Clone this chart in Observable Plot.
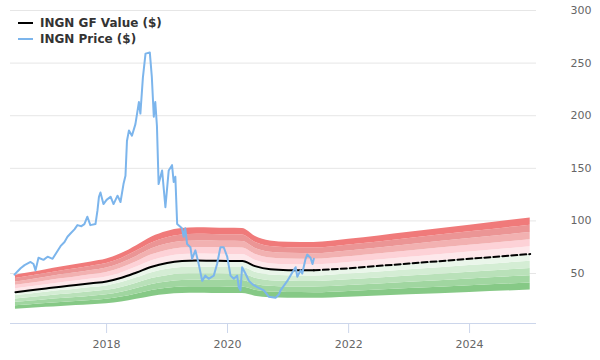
<!DOCTYPE html>
<html>
<head>
<meta charset="utf-8">
<script src="https://cdn.jsdelivr.net/npm/d3@7"></script>
<script src="https://cdn.jsdelivr.net/npm/@observablehq/plot@0.6"></script>
<style>
  html, body { margin: 0; padding: 0; background: #fff; }
  #wrap { position: relative; width: 600px; height: 360px; font-family: "DejaVu Sans", sans-serif; }
  #legend { position: absolute; left: 18px; top: 15px; font-size: 12px; font-weight: bold; color: #333; line-height: 16px; }
  .item { display: flex; align-items: center; height: 16px; }
  .sw { width: 15px; height: 2px; margin-right: 7px; }
</style>
</head>
<body>
<div id="wrap">
  <div id="chart"></div>
  <div id="legend"></div>
</div>
<script>
// ---- data ----
const seriesNames = ["INGN GF Value ($)", "INGN Price ($)"];
const seriesColors = ["#000000", "#7cb5ec"];

const priceDates = [
  "2016-06-24","2016-07-12","2016-07-31","2016-08-24","2016-09-29","2016-10-17","2016-10-29","2016-11-16","2016-12-16",
  "2017-01-10","2017-02-09","2017-03-05","2017-03-29","2017-04-22","2017-05-10","2017-05-28","2017-06-21","2017-07-09",
  "2017-08-02","2017-08-20","2017-09-07","2017-09-25","2017-10-26","2017-11-07","2017-11-16","2017-11-25","2017-12-13",
  "2018-01-01","2018-01-25","2018-02-12","2018-03-08","2018-03-26","2018-04-13","2018-04-25","2018-05-04","2018-05-16",
  "2018-06-03","2018-06-24","2018-07-15","2018-07-24","2018-08-08","2018-08-24","2018-09-19","2018-10-01","2018-10-13",
  "2018-10-22","2018-11-01","2018-11-11","2018-12-02","2018-12-22","2019-01-11","2019-01-31","2019-02-10","2019-02-20",
  "2019-03-03","2019-04-01","2019-04-11","2019-04-21","2019-05-02","2019-05-22","2019-06-01","2019-06-21","2019-07-11",
  "2019-08-01","2019-08-20","2019-09-09","2019-10-10","2019-10-30","2019-11-19","2019-12-09","2019-12-30","2020-01-19",
  "2020-02-08","2020-02-28","2020-03-09","2020-03-19","2020-03-29","2020-04-18","2020-05-09","2020-05-29","2020-06-28",
  "2020-08-07","2020-09-06","2020-10-17","2020-11-06","2020-11-16","2020-12-27","2021-01-26","2021-02-15","2021-02-25",
  "2021-03-17","2021-03-27","2021-04-16","2021-04-26","2021-05-16","2021-05-28","2021-06-05"
];
const priceValues = [
  49, 52, 55, 58, 61, 59, 53, 65, 63,
  66, 64, 70, 76, 80, 85, 88, 92, 96,
  95, 97, 104, 96, 97, 110, 123, 127, 116,
  120, 123, 116, 124, 118, 135, 143, 176, 186,
  181, 192, 213, 202, 236, 259, 260, 237, 199,
  213, 190, 135, 148, 113, 148, 153, 137, 142,
  97, 93, 85, 93, 78, 75, 64, 72, 59,
  43, 48, 45, 48, 59, 75, 75, 66, 48,
  45, 48, 37, 34, 56, 50, 43, 40, 37,
  34, 28, 27, 30, 34, 43, 51, 56, 47,
  53, 50, 64, 68, 65, 59, 64
];

const gfDates = [
  "2016-06-30","2016-10-01","2017-01-01","2017-04-01","2017-07-01","2017-10-01","2018-01-01","2018-04-01",
  "2018-07-01","2018-10-01","2019-01-01","2019-04-01","2019-07-01","2019-10-01","2020-01-01","2020-03-31",
  "2020-06-15","2020-09-15","2021-01-01","2021-06-05"
];
const gfValues = [
  32.3, 34, 35.8, 37.5, 39, 40.7, 42.5, 46,
  51, 56.5, 60, 61.8, 62.3, 62.2, 62, 61.8,
  57, 54, 53.2, 53
];

const projDates = ["2021-06-05","2022-01-01","2023-01-01","2024-01-01","2025-01-01"];
const projValues = [53, 55, 59.5, 64, 68.5];

const bandFactors = [0.5, 0.6, 0.7, 0.8, 0.9, 1.0, 1.1, 1.2, 1.3, 1.4, 1.5];
const bandColors = ["#86c986","#a0d6a0","#b9e1b9","#d4edd4","#eaf6ea","#fde8eb","#fdd2d7","#f2b1b1","#eb9595","#f07a7a"];

const yTicks = [50, 100, 150, 200, 250, 300];
const xTicks = ["2018-01-01","2020-01-01","2022-01-01","2024-01-01"];

// ---- build ----
const parse = d3.utcParse("%Y-%m-%d");
const price = priceDates.map((d, i) => ({date: parse(d), value: priceValues[i]}));
const gf = gfDates.map((d, i) => ({date: parse(d), value: gfValues[i]}));
const proj = projDates.map((d, i) => ({date: parse(d), value: projValues[i]}));
const allGf = gf.concat(proj.slice(1));

const bandMarks = [];
for (let k = 0; k < bandColors.length; k++) {
  const lo = bandFactors[k], hi = bandFactors[k + 1];
  bandMarks.push(Plot.areaY(allGf, {
    x: "date", y1: d => d.value * lo, y2: d => d.value * hi,
    fill: bandColors[k], curve: "monotone-x"
  }));
}

const yMin = 2.5;
const chart = Plot.plot({
  width: 600, height: 360,
  marginLeft: 10, marginRight: 64, marginTop: 10, marginBottom: 37,
  style: {fontFamily: "DejaVu Sans, sans-serif", fontSize: "11px", background: "#fff"},
  x: {type: "utc", domain: [parse("2016-05-31"), parse("2025-02-08")]},
  y: {domain: [yMin, 300]},
  marks: [
    Plot.gridY(yTicks, {stroke: "#e6e6e6", strokeOpacity: 1}),
    ...bandMarks,
    Plot.ruleY([yMin], {stroke: "#ccd6eb"}),
    Plot.axisX(xTicks.map(parse), {tickSize: 10, tickPadding: 7, stroke: "#ccd6eb", fill: "#666", color: "#666", tickFormat: d3.utcFormat("%Y"), label: null}),
    Plot.axisY(yTicks, {anchor: "right", tickSize: 0, tickPadding: 34, fill: "#666", color: "#666", label: null}),
    Plot.lineY(gf, {x: "date", y: "value", stroke: seriesColors[0], strokeWidth: 2, curve: "monotone-x"}),
    Plot.lineY(proj, {x: "date", y: "value", stroke: seriesColors[0], strokeWidth: 2, strokeDasharray: "6,3"}),
    Plot.lineY(price, {x: "date", y: "value", stroke: seriesColors[1], strokeWidth: 2})
  ]
});
document.getElementById("chart").appendChild(chart);

// ticks colour fix
chart.querySelectorAll('[aria-label="x-axis tick"]').forEach(g => g.setAttribute("stroke", "#ccd6eb"));

const legend = document.getElementById("legend");
seriesNames.forEach((name, i) => {
  const it = document.createElement("div");
  it.className = "item";
  const sw = document.createElement("div");
  sw.className = "sw";
  sw.style.background = seriesColors[i];
  it.appendChild(sw);
  const t = document.createElement("span");
  t.textContent = name;
  it.appendChild(t);
  legend.appendChild(it);
});
</script>
</body>
</html>
